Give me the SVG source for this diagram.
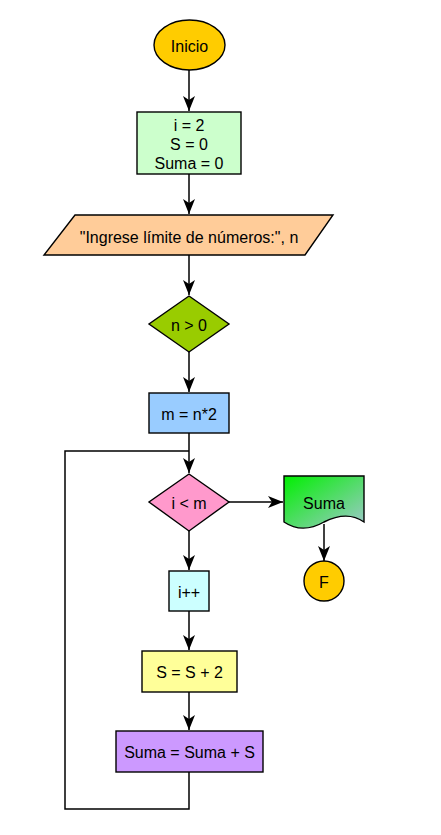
<svg xmlns="http://www.w3.org/2000/svg" width="441" height="835" viewBox="0 0 441 835">
<style>
.s{stroke:#000;stroke-width:1.4}
.t{font-family:"Liberation Sans",Arial,sans-serif;font-size:16px;fill:#000;text-anchor:middle;dominant-baseline:central}
.c{fill:none;stroke:#000;stroke-width:1.5}
</style>
<defs>
<marker id="a" markerWidth="16" markerHeight="13" refX="15" refY="6.5" orient="auto" markerUnits="userSpaceOnUse" viewBox="0 0 16 13">
<path d="M0,0.5 L15,6.5 L0,12.5 L4,6.5 Z" fill="#000"/>
</marker>
<linearGradient id="g" x1="0" y1="0" x2="1" y2="1">
<stop offset="0" stop-color="#00f000"/>
<stop offset="1" stop-color="#a0c8cc"/>
</linearGradient>
</defs>
<rect width="441" height="835" fill="#fff"/>
<g id="connectors">
<path class="c" d="M189,70 V111" marker-end="url(#a)"/>
<path class="c" d="M189,174 V214" marker-end="url(#a)"/>
<path class="c" d="M189,255 V295" marker-end="url(#a)"/>
<path class="c" d="M189,352 V392" marker-end="url(#a)"/>
<path class="c" d="M189,433 V473" marker-end="url(#a)"/>
<path class="c" d="M229,502 H283" marker-end="url(#a)"/>
<path class="c" d="M324,524 V561" marker-end="url(#a)"/>
<path class="c" d="M189,531 V570" marker-end="url(#a)"/>
<path class="c" d="M189,611 V650" marker-end="url(#a)"/>
<path class="c" d="M189,692 V730" marker-end="url(#a)"/>
<path class="c" d="M189,772 V809 H65 V451 H189"/>
</g>
<g id="inicio">
<ellipse class="s" cx="189.5" cy="45" rx="35.5" ry="25" fill="#ffcc00"/>
<text class="t" x="189.5" y="46">Inicio</text>
</g>
<g id="init">
<rect class="s" x="137" y="112" width="104" height="62" fill="#ccffcc"/>
<text class="t" x="189" y="125">i = 2</text>
<text class="t" x="189" y="144">S = 0</text>
<text class="t" x="189" y="163">Suma = 0</text>
</g>
<g id="input">
<polygon class="s" points="75,215 333,215 305,255 44,255" fill="#ffcc99"/>
<text class="t" x="189" y="237">"Ingrese límite de números:", n</text>
</g>
<g id="cond1">
<polygon class="s" points="189,296 229,324 189,352 149,324" fill="#99cc00"/>
<text class="t" x="189" y="325">n &gt; 0</text>
</g>
<g id="m">
<rect class="s" x="149" y="393" width="80" height="40" fill="#99ccff"/>
<text class="t" x="189" y="414">m = n*2</text>
</g>
<g id="cond2">
<polygon class="s" points="189,474 229,502 189,531 149,502" fill="#ff99cc"/>
<text class="t" x="189" y="503">i &lt; m</text>
</g>
<g id="output">
<path class="s" d="M284,476 H364 V522 C350,512 336,516 324,522 C310,530 296,530 284,522 Z" fill="url(#g)"/>
<text class="t" x="324" y="503">Suma</text>
</g>
<g id="fin">
<circle class="s" cx="324" cy="581" r="20" fill="#ffcc00"/>
<text class="t" x="324" y="582">F</text>
</g>
<g id="inc">
<rect class="s" x="169" y="571" width="40" height="40" fill="#ccffff"/>
<text class="t" x="189" y="592">i++</text>
</g>
<g id="s2">
<rect class="s" x="142" y="651" width="95" height="41" fill="#ffff99"/>
<text class="t" x="189.5" y="672">S = S + 2</text>
</g>
<g id="suma">
<rect class="s" x="116" y="731" width="147" height="41" fill="#cc99ff"/>
<text class="t" x="189.5" y="752">Suma = Suma + S</text>
</g>
</svg>
